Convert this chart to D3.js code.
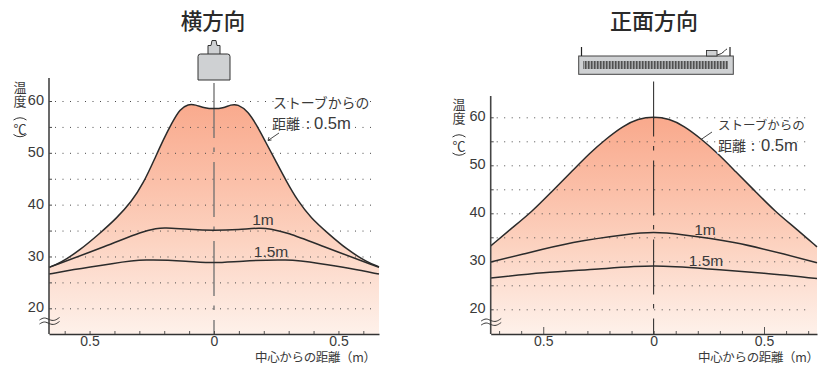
<!DOCTYPE html>
<html><head><meta charset="utf-8">
<script src="https://cdn.jsdelivr.net/npm/d3@7/dist/d3.min.js"></script>
<style>
html,body{margin:0;padding:0;background:#fff;overflow:hidden}
svg{display:block}
text{font-family:"Liberation Sans","Noto Sans CJK JP",sans-serif;fill:#3a3a3a}
.cjk{font-family:"Noto Sans CJK JP",sans-serif}
</style></head><body>
<svg id="c" width="828" height="367"></svg>
<script>
// Data: [distance from centre (m), temperature (C)]
const sideDist05 = [-0.663,-0.618,-0.538,-0.458,-0.391,-0.331,-0.284,-0.237,-0.204,-0.17,-0.137,-0.103,-0.076,-0.036,0,0.036,0.068,0.095,0.137,0.173,0.205,0.245,0.292,0.337,0.39,0.455,0.535,0.615,0.663];
const sideTemp05 = [27.9,28.7,31.25,34.5,37.4,40.6,44.1,49,52.5,55.7,58.5,59.4,59.3,58.6,58.5,58.6,59.3,59.4,58,55.2,52.3,48.7,44.4,40.7,37.4,34.6,31.3,28.9,28];
const sideDist1 = [-0.663,-0.427,-0.284,-0.23,-0.204,-0.1,0,0.1,0.19,0.225,0.29,0.43,0.663];
const sideTemp1 = [27.9,32.1,34.9,35.4,35.6,35.2,35,35.2,35.55,35.35,34.7,32.1,27.9];
const sideDist15 = [-0.663,-0.578,-0.4,-0.284,-0.1,0,0.1,0.3,0.42,0.55,0.663];
const sideTemp15 = [26.6,27.4,28.7,29.5,29.1,28.7,29.1,29.5,28.7,27.7,26.6];
const frontDist05 = [-0.738,-0.643,-0.552,-0.462,-0.371,-0.288,-0.213,-0.138,-0.071,0,0.071,0.138,0.213,0.288,0.371,0.462,0.552,0.643,0.74];
const frontTemp05 = [33.2,36.9,40.3,44.5,48.7,52.6,55.6,58.2,59.7,60.2,59.7,58.2,55.6,52.6,48.7,44.5,40.3,36.9,33];
const frontDist1 = [-0.738,-0.59,-0.364,-0.138,0,0.138,0.364,0.59,0.74];
const frontTemp1 = [29.85,31.5,33.9,35.5,36,35.5,33.9,31.5,29.7];
const frontDist15 = [-0.738,-0.5,-0.25,0,0.25,0.5,0.74];
const frontTemp15 = [26.5,27.6,28.4,29,28.4,27.5,26.4];
const gridTemps = [20,25,30,35,40,45,50,55,60];
const labelTemps = [20,30,40,50,60];
const distTicks = [-0.7,-0.6,-0.5,-0.4,-0.3,-0.2,-0.1,0,0.1,0.2,0.3,0.4,0.5,0.6,0.7];
const distLabels = [-0.5,0,0.5];
const titleSide = "横方向", titleFront = "正面方向";
const note1 = "ストーブからの", note2a = "距離", note2b = ":", note2c = "0.5m", xTitle = "中心からの距離（m）";

const svg = d3.select("#c");
const defs = svg.append("defs");
const dots = "3 3 " + d3.range(50).map(()=>"1 6.5").join(" ");

function panel(o){
  const x = d3.scaleLinear().domain(o.xd).range([o.x0,o.x1]);
  const y = d3.scaleLinear().domain([20,60]).range([o.y20,o.y60]);
  const base = o.base, g = svg.append("g");
  const id = "grad"+o.id;
  const gr = defs.append("linearGradient").attr("id",id).attr("gradientUnits","userSpaceOnUse")
    .attr("x1",0).attr("x2",0).attr("y1",y(60)).attr("y2",base);
  [[0,"#f9a98c"],[0.35,"#fbc0a9"],[0.6,"#fcd3c1"],[0.8,"#fde2d6"],[1,"#fef1ea"]].forEach(s=>gr.append("stop").attr("offset",s[0]).attr("stop-color",s[1]));
  const pts = (a,b)=>a.map((d,i)=>[d,b[i]]);
  const area = d3.area().x(d=>x(d[0])).y0(base).y1(d=>y(d[1])).curve(d3.curveBasis);
  const line = c=>d3.line().x(d=>x(d[0])).y(d=>y(d[1])).curve(c);
  g.append("path").attr("d",area(pts(o.d05,o.t05))).attr("fill",`url(#${id})`);
  const gridAxis = d3.axisLeft(y).tickValues(gridTemps).tickSize(-(o.gridEnd-o.x0)).tickFormat("");
  const gg = g.append("g").attr("transform",`translate(${o.x0},0)`).call(gridAxis);
  gg.select(".domain").remove();
  gg.selectAll("line").attr("stroke","#4a4a4a").attr("stroke-width",1).attr("stroke-dasharray",dots);
  g.append("line").attr("x1",x(0)).attr("x2",x(0)).attr("y1",o.cTop).attr("y2",base)
    .attr("stroke",o.cCol).attr("stroke-width",o.cW).attr("stroke-dasharray","55 9.5 4.5 10");
  [[o.d05,o.t05,d3.curveBasis],[o.d1,o.t1,o.thin],[o.d15,o.t15,o.thin]].forEach(s=>{
    g.append("path").attr("d",line(s[2])(pts(s[0],s[1]))).attr("fill","none").attr("stroke","#2b2b2b").attr("stroke-width",1.5);
  });
  const ya = d3.axisLeft(y).tickValues(labelTemps).tickSize(0).tickPadding(o.yPad).tickFormat(d3.format("d"));
  const yg = g.append("g").attr("transform",`translate(${o.x0},-1)`).call(ya);
  yg.select(".domain").remove();
  yg.selectAll("text").attr("font-size",14.5).attr("font-family",null);
  g.append("line").attr("x1",o.x0).attr("x2",o.x0).attr("y1",o.axTop).attr("y2",base).attr("stroke","#444").attr("stroke-width",1.6);
  const xa = d3.axisBottom(x).tickValues(distTicks.filter(t=>x(t)>o.x0+3&&x(t)<o.x1-3)).tickSize(0).tickFormat("");
  const xg = g.append("g").attr("transform",`translate(0,${base})`).call(xa);
  xg.select(".domain").attr("stroke","#333").attr("stroke-width",1.6);
  xg.selectAll(".tick line").attr("y2",d=>Math.abs(Math.abs(d)-0.5)<1e-6?-o.majorTick:-3).attr("stroke","#444").attr("stroke-width",0.9);
  const lb = d3.axisBottom(x).tickValues(distLabels).tickSize(0).tickPadding(2).tickFormat(d=>d===0?"0":"0.5");
  const lg = g.append("g").attr("transform",`translate(0,${base})`).call(lb);
  lg.select(".domain").remove();
  lg.selectAll("text").attr("font-size",14).attr("font-family",null);
  g.append("text").attr("class","cjk").attr("x",o.xTitleX).attr("y",362).attr("font-size",12.5).attr("textLength",121).attr("lengthAdjust","spacing").text(xTitle);
  g.append("text").attr("class","cjk").attr("x",o.ytX).attr("y",o.ytY-11.5).style("writing-mode","vertical-rl").attr("letter-spacing",1).attr("font-size",13).text("温度");
  g.append("text").attr("class","cjk").attr("x",o.ytX).attr("y",o.ytY+42).attr("text-anchor","middle").attr("font-size",13).text("℃");
  [[o.ytY+o.arcA,-1],[o.ytY+o.arcB,1]].forEach(a=>{
    g.append("path").attr("d",`M${o.ytX-6.5},${a[0]-a[1]*2}Q${o.ytX},${a[0]+a[1]*2.5} ${o.ytX+6.5},${a[0]-a[1]*2}`).attr("fill","none").attr("stroke","#333").attr("stroke-width",1);
  });
  const bk = d3.line().curve(d3.curveBasis);
  [-2,2].forEach(dy=>{
    const bx=o.x0-9.5, by=o.by+dy;
    g.append("path").attr("d",bk([[bx,by+1],[bx+5,by-2],[bx+10,by+1],[bx+15,by+2],[bx+20,by-1.5]])).attr("fill","none").attr("stroke","#333").attr("stroke-width",1);
  });
  g.append("text").attr("class","cjk").attr("x",o.titleX).attr("y",29).attr("text-anchor","middle").attr("font-size",o.titleFs).attr("font-weight",500).style("fill","#2a2a2a").text(o.title);
  const halo = t=>t.attr("stroke","#fff").attr("stroke-width",3).attr("paint-order","stroke");
  halo(g.append("text").attr("class","cjk").attr("x",o.noteX).attr("y",o.noteY).attr("font-size",o.noteFs).text(note1));
  const y2 = o.noteY+o.noteGap;
  halo(g.append("text").attr("class","cjk").attr("x",o.noteX-(o.id==="a"?1:0)).attr("y",y2).attr("font-size",14).text(note2a));
  halo(g.append("text").attr("class","cjk").attr("x",o.colonX).attr("y",y2).attr("font-size",14).text(note2b));
  halo(g.append("text").attr("x",o.valX).attr("y",y2).attr("font-size",16.6).text(note2c));
  g.append("path").attr("d",o.leader).attr("fill","none").attr("stroke","#333").attr("stroke-width",0.9);
  g.append("text").attr("x",o.l1[0]).attr("y",o.l1[1]).attr("text-anchor","middle").attr("font-size",15.5).text("1m");
  g.append("text").attr("x",o.l15[0]).attr("y",o.l15[1]).attr("text-anchor","middle").attr("font-size",15.5).text("1.5m");
}

panel({id:"a",xd:[-0.663,0.663],x0:49,x1:379,gridEnd:377,y20:308.3,y60:101,base:334,axTop:78,thin:d3.curveBasis,
  d05:sideDist05,t05:sideTemp05,d1:sideDist1,t1:sideTemp1,d15:sideDist15,t15:sideTemp15,
  cTop:83,cCol:"#6f6f6f",cW:1.3,yPad:5,majorTick:3,xTitleX:255,ytX:20,ytY:92,arcA:26,arcB:44.5,by:321,titleX:213,titleFs:21.5,title:titleSide,
  noteX:273,noteY:107.5,noteGap:21,noteFs:13.9,colonX:306,valX:314,leader:"M279,133L268,140.5M268,140.5l1,-3.5M268,140.5l3.5,-0.5",l1:[263,225],l15:[271,257]});
panel({id:"b",xd:[-0.738,0.74],x0:490.7,x1:817,gridEnd:811,y20:309.3,y60:117.3,base:334,axTop:96,thin:d3.curveNatural,
  d05:frontDist05,t05:frontTemp05,d1:frontDist1,t1:frontTemp1,d15:frontDist15,t15:frontTemp15,
  cTop:81.5,cCol:"#222",cW:1,yPad:5,majorTick:7,xTitleX:698,ytX:459,ytY:109,arcA:26,arcB:46,by:322,titleX:654,titleFs:22,title:titleFront,
  noteX:718,noteY:130,noteGap:21,noteFs:12.5,colonX:751,valX:761,leader:"M712,132L701,139.5",l1:[705,235],l15:[706,265.5]});

const ic = svg.append("g");
ic.append("path").attr("d","M208,54V45.5H211L212,40.5H216L217,45.5H220V54").attr("fill","#cfd1d3").attr("stroke","#333").attr("stroke-width",1);
ic.append("path").attr("d","M198,80V56.5Q198,54 200.5,54H227.5Q230,54 230,56.5V80Z").attr("fill","#cfd1d3").attr("stroke","#333").attr("stroke-width",1);
ic.append("rect").attr("x",578.7).attr("y",56).attr("width",154.6).attr("height",18.3).attr("fill","#cfd1d3").attr("stroke","#444").attr("stroke-width",1);
ic.append("path").attr("d","M581.5,47V56M730,47V56").attr("stroke","#222").attr("stroke-width",1.2).attr("fill","none");
ic.append("rect").attr("x",706.5).attr("y",50.5).attr("width",10.5).attr("height",5.5).attr("fill","#cfd1d3").attr("stroke","#333").attr("stroke-width",0.9);
ic.append("path").attr("d","M717,55Q722,54 724,51.5T727,49").attr("stroke","#333").attr("stroke-width",1).attr("fill","none");
defs.append("pattern").attr("id","st").attr("patternUnits","userSpaceOnUse").attr("width",1.5).attr("height",8)
  .append("rect").attr("width",0.85).attr("height",8).attr("fill","#3a3a3a");
ic.append("rect").attr("x",583).attr("y",61).attr("width",145).attr("height",8).attr("fill","url(#st)");
</script>
</body></html>
